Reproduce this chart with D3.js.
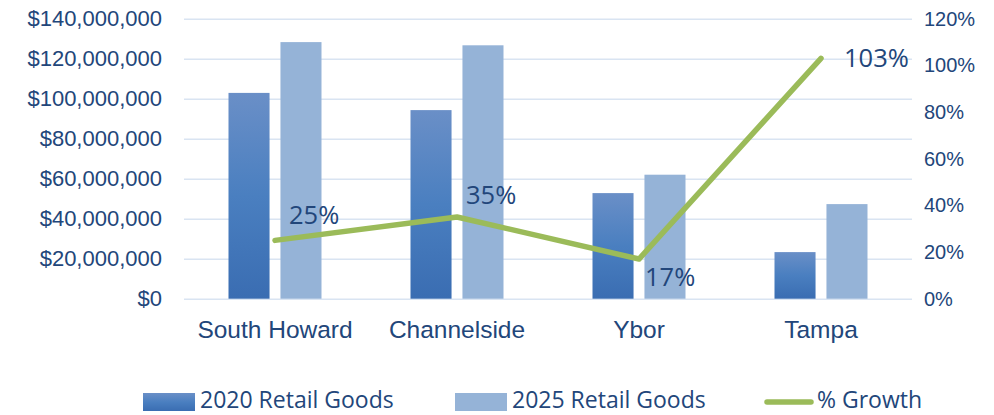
<!DOCTYPE html>
<html>
<head>
<meta charset="utf-8">
<script src="https://cdn.jsdelivr.net/npm/d3@7"></script>
<style>
  html, body { margin: 0; padding: 0; background: #fff; }
  svg { display: block; font-family: "Open Sans", sans-serif; }
</style>
</head>
<body>
<div id="chart"></div>
<script>
// Data
const categories = ['South Howard', 'Channelside', 'Ybor', 'Tampa'];
const retail2020 = [102900000, 94300000, 52800000, 23300000];
const retail2025 = [128300000, 126700000, 62000000, 47300000];
const growth = [25, 35, 17, 103];
const leftTicks = [0, 20000000, 40000000, 60000000, 80000000, 100000000, 120000000, 140000000];
const rightTicks = [0, 20, 40, 60, 80, 100, 120];
const seriesNames = ['2020 Retail Goods', '2025 Retail Goods', '% Growth'];

const W = 994, H = 415;
const plot = { left: 184, right: 912, top: 18.7, bottom: 298.7 };
const TEXT = '#22467a';
const GRID = '#d9e4f2';
const LINE = '#9bbb59';
const LIGHT = '#95b3d7';

// label offsets from their point (Excel-style placement)
const labelOffsets = [[14, -16], [9, -13], [6, 27], [23, 9]];

const svg = d3.select('#chart').append('svg')
  .attr('width', W).attr('height', H)
  .attr('viewBox', `0 0 ${W} ${H}`);

const defs = svg.append('defs');
const grad = defs.append('linearGradient')
  .attr('id', 'dark').attr('x1', 0).attr('y1', 0).attr('x2', 0).attr('y2', 1);
grad.append('stop').attr('offset', '0%').attr('stop-color', '#6a8fc7');
grad.append('stop').attr('offset', '50%').attr('stop-color', '#4a7fc0');
grad.append('stop').attr('offset', '100%').attr('stop-color', '#3a6db2');

const x0 = d3.scaleBand().domain(categories).range([plot.left, plot.right]).padding(0);
const x1 = d3.scaleBand().domain(['2020', '2025'])
  .range([44.5, x0.bandwidth() - 44.5]).paddingInner(0.21);
const yL = d3.scaleLinear().domain([0, 140000000]).range([plot.bottom, plot.top]);
const yR = d3.scaleLinear().domain([0, 120]).range([plot.bottom, plot.top]);

// gridlines
svg.append('g')
  .attr('transform', `translate(${plot.left},0)`)
  .call(d3.axisLeft(yL).tickValues(leftTicks).tickSize(-(plot.right - plot.left)).tickFormat(''))
  .call((g) => g.select('.domain').remove())
  .call((g) => g.selectAll('line').attr('stroke', GRID).attr('stroke-width', 1.5));

// left axis labels
svg.append('g')
  .attr('transform', `translate(${plot.left},0)`)
  .call(d3.axisLeft(yL).tickValues(leftTicks).tickSize(0).tickPadding(22)
    .tickFormat((d) => '$' + d3.format(',')(d)))
  .call((g) => g.select('.domain').remove())
  .call((g) => g.selectAll('text').attr('fill', TEXT).style('font-size', '22px'));

// right axis labels
svg.append('g')
  .attr('transform', `translate(${plot.right},0)`)
  .call(d3.axisRight(yR).tickValues(rightTicks).tickSize(0).tickPadding(12)
    .tickFormat((d) => d + '%'))
  .call((g) => g.select('.domain').remove())
  .call((g) => g.selectAll('text').attr('fill', TEXT).style('font-size', '20px'));

// bars
const groups = svg.append('g').selectAll('g')
  .data(categories)
  .join('g')
  .attr('transform', (d) => `translate(${x0(d)},0)`);

groups.append('rect')
  .attr('x', x1('2020'))
  .attr('width', x1.bandwidth())
  .attr('y', (d, i) => yL(retail2020[i]))
  .attr('height', (d, i) => yL(0) - yL(retail2020[i]))
  .attr('fill', 'url(#dark)');

groups.append('rect')
  .attr('x', x1('2025'))
  .attr('width', x1.bandwidth())
  .attr('y', (d, i) => yL(retail2025[i]))
  .attr('height', (d, i) => yL(0) - yL(retail2025[i]))
  .attr('fill', LIGHT);

// category labels
svg.append('g')
  .attr('transform', `translate(0,${plot.bottom})`)
  .call(d3.axisBottom(x0).tickSize(0).tickPadding(22))
  .call((g) => g.select('.domain').remove())
  .call((g) => g.selectAll('text').attr('fill', TEXT).style('font-size', '24.5px'));

// growth line
const cx = (c) => x0(c) + x0.bandwidth() / 2;
const lineGen = d3.line()
  .x((d, i) => cx(categories[i]))
  .y((d) => yR(d));

svg.append('path')
  .datum(growth)
  .attr('d', lineGen)
  .attr('fill', 'none')
  .attr('stroke', LINE)
  .attr('stroke-width', 5.5)
  .attr('stroke-linecap', 'round')
  .attr('stroke-linejoin', 'round');

svg.append('g').selectAll('text')
  .data(growth)
  .join('text')
  .attr('x', (d, i) => cx(categories[i]) + labelOffsets[i][0])
  .attr('y', (d, i) => yR(d) + labelOffsets[i][1])
  .attr('fill', TEXT)
  .style('font-size', '25.5px')
  .text((d) => d + '%');

// legend
const legendY = 400;
const legendItems = [
  { name: seriesNames[0], x: 143, kind: 'rect', fill: 'url(#dark)' },
  { name: seriesNames[1], x: 455, kind: 'rect', fill: LIGHT },
  { name: seriesNames[2], x: 765, kind: 'line', fill: LINE }
];
const lg = svg.append('g').selectAll('g').data(legendItems).join('g')
  .attr('transform', (d) => `translate(${d.x},${legendY})`);

lg.filter((d) => d.kind === 'rect').append('rect')
  .attr('x', 0).attr('y', -7).attr('width', 52).attr('height', 18)
  .attr('fill', (d) => d.fill);
lg.filter((d) => d.kind === 'line').append('line')
  .attr('x1', 2).attr('x2', 46).attr('y1', 2).attr('y2', 2)
  .attr('stroke', (d) => d.fill).attr('stroke-width', 5.5).attr('stroke-linecap', 'round');
lg.append('text')
  .attr('x', (d) => d.kind === 'line' ? 52 : 57)
  .attr('y', 0)
  .attr('dy', '0.35em')
  .attr('fill', TEXT)
  .style('font-size', '23px')
  .text((d) => d.name);
</script>
</body>
</html>
